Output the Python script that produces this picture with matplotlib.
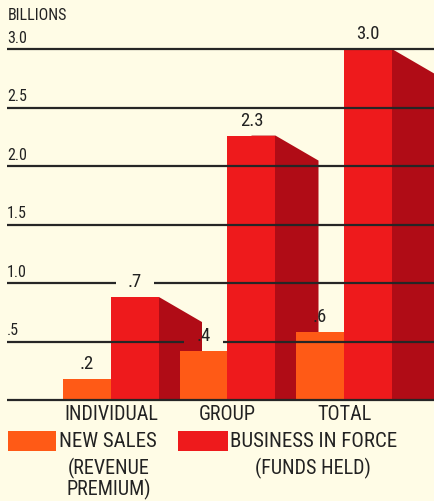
import matplotlib
matplotlib.use("Agg")
import matplotlib.pyplot as plt
from matplotlib.patches import Polygon, Rectangle

# ---- data ----
categories = ["INDIVIDUAL", "GROUP", "TOTAL"]
new_sales = [0.18, 0.42, 0.58]          # bar heights as drawn
new_sales_labels = [".2", ".4", ".6"]
business_in_force = [0.88, 2.26, 3.0]   # bar heights as drawn
business_labels = [".7", "2.3", "3.0"]
tick_values = [0.5, 1.0, 1.5, 2.0, 2.5, 3.0]
tick_labels = [".5", "1.0", "1.5", "2.0", "2.5", "3.0"]

BG = "#fffce6"
ORANGE = "#ff5a16"
RED = "#ee1a1c"
DARK = "#b00c16"
LINE = "#262626"
TXT = "#222222"
FONT = ["Roboto Condensed", "DejaVu Sans"]
plt.rcParams["font.family"] = FONT

W, H = 434, 502
fig = plt.figure(figsize=(W / 100, H / 100), dpi=100, facecolor=BG)
ax = fig.add_axes([0, 0, 1, 1])
ax.set_facecolor(BG)
ax.axis("off")

px_unit_x = 116.5
px_unit_y = 117.0
x0_px = 111.0
base_px = 401.0
ax.set_xlim(-x0_px / px_unit_x, (W - x0_px) / px_unit_x)
ax.set_ylim(-(H - base_px) / px_unit_y, base_px / px_unit_y)

bw = 48 / px_unit_x
dx = 43 / px_unit_x
dy = 25 / px_unit_y
xs = list(range(len(categories)))

# side faces (3D depth), starting under the front face to avoid seams
for x, h in zip(xs, business_in_force):
    xr = x + bw
    poly = Polygon([(x + bw / 2, 0), (x + bw / 2, h), (xr, h), (xr + dx, h - dy), (xr + dx, 0)],
                   closed=True, facecolor=DARK, edgecolor="none", zorder=1)
    ax.add_patch(poly)

ax.bar([x - bw / 2 for x in xs], new_sales, width=bw, color=ORANGE, zorder=2, linewidth=0)
ax.bar([x + bw / 2 for x in xs], business_in_force, width=bw, color=RED, zorder=2, linewidth=0)

xl = 7 / px_unit_x - x0_px / px_unit_x
xr_lim = ax.get_xlim()[1]
for v, t in zip(tick_values, tick_labels):
    ax.text(xl, v + 4 / px_unit_y, t, ha="left", va="bottom", fontsize=11.5,
            color=TXT, zorder=4)
ax.text(xl + 1 / px_unit_x, 3.0 + 27 / px_unit_y, "BILLIONS", ha="left", va="bottom",
        fontsize=11.5, color=TXT, zorder=4)

value_texts = []
for x, h, t in zip(xs, new_sales, new_sales_labels):
    value_texts.append(ax.annotate(t, (x - bw / 2, h), xytext=(0, 5), textcoords="offset points",
                                   ha="center", va="bottom", fontsize=13.5, color=TXT, zorder=5))
for x, h, t in zip(xs, business_in_force, business_labels):
    value_texts.append(ax.annotate(t, (x + bw / 2, h), xytext=(0, 5), textcoords="offset points",
                                   ha="center", va="bottom", fontsize=13.5, color=TXT, zorder=5))

# category labels
for x, c in zip(xs, categories):
    ax.text(x, -14 / px_unit_y, c, ha="center", va="center", fontsize=14.5, color=TXT)

# grid lines drawn over bars, broken around value labels
fig.canvas.draw()
inv = ax.transData.inverted()
gaps = []
for t in value_texts:
    bb = t.get_window_extent()
    (a0, b0), (a1, b1) = inv.transform([(bb.x0 - 12, bb.y0 - 2), (bb.x1 + 12, bb.y1 + 2)])
    gaps.append((a0, a1, b0, b1))
for v in [0] + tick_values:
    segs = [(xl, xr_lim)]
    for a0, a1, b0, b1 in gaps:
        if b0 <= v <= b1:
            new = []
            for s0, s1 in segs:
                if a1 <= s0 or a0 >= s1:
                    new.append((s0, s1))
                else:
                    if a0 > s0:
                        new.append((s0, a0))
                    if a1 < s1:
                        new.append((a1, s1))
            segs = new
    for s0, s1 in segs:
        ax.plot([s0, s1], [v, v], color=LINE, lw=1.6, zorder=3, solid_capstyle="butt")

# legend
def px(xp, yp):
    return ((xp - x0_px) / px_unit_x, (base_px - yp) / px_unit_y)

for (l, r), col in [((8, 56), ORANGE), ((178, 228), RED)]:
    x1, y1 = px(l, 452)
    x2, y2 = px(r, 432)
    ax.add_patch(Rectangle((x1, y1), x2 - x1, y2 - y1, facecolor=col, edgecolor="none"))
tx, ty = px(59, 442)
ax.text(tx, ty, "NEW SALES", ha="left", va="center", fontsize=15, color=TXT)
tx, ty = px(230, 442)
ax.text(tx, ty, "BUSINESS IN FORCE", ha="left", va="center", fontsize=15, color=TXT)
tx, ty = px(109, 479)
ax.text(tx, ty, "(REVENUE\nPREMIUM)", ha="center", va="center", fontsize=14.5,
        color=TXT, linespacing=0.95)
tx, ty = px(313, 468)
ax.text(tx, ty, "(FUNDS HELD)", ha="center", va="center", fontsize=14.5, color=TXT)

fig.savefig("out.png", dpi=100, facecolor=BG)
